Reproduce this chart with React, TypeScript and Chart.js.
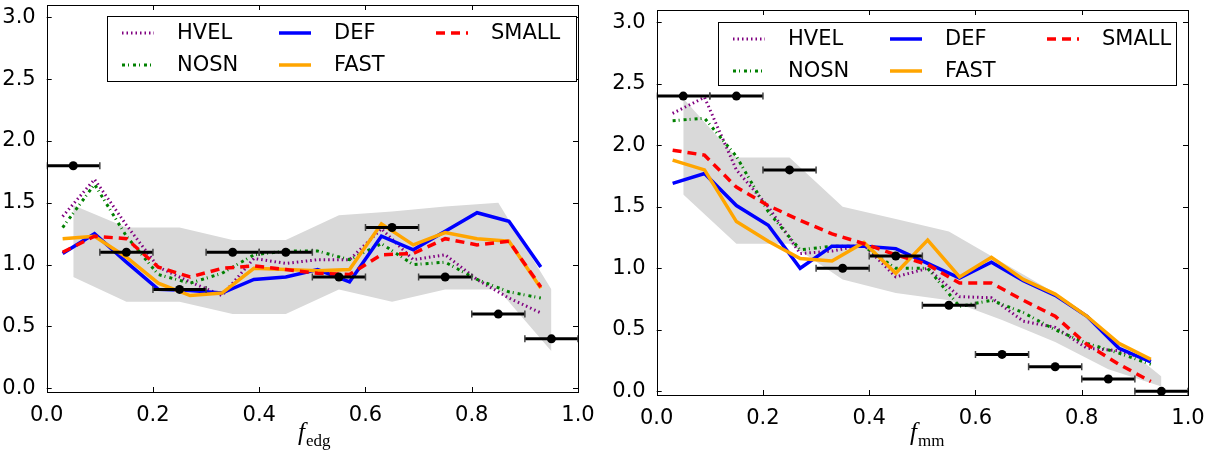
import { useEffect, useRef } from "react";
import { Chart, registerables } from "chart.js";

Chart.register(...registerables);

// model curves are sampled on this grid
const modelX = [0.03, 0.09, 0.15, 0.21, 0.27, 0.33, 0.39, 0.45, 0.51, 0.57, 0.63, 0.69, 0.75, 0.81, 0.87, 0.93];

// left panel: f_edg
const edgHVEL = [1.39, 1.69, 1.32, 0.98, 0.86, 0.75, 1.05, 1.01, 1.04, 1.04, 1.29, 1.04, 1.08, 0.88, 0.73, 0.61];
const edgNOSN = [1.30, 1.65, 1.23, 0.92, 0.85, 0.93, 1.08, 1.11, 1.11, 1.04, 1.17, 1.00, 1.02, 0.88, 0.78, 0.73];
const edgDEF = [1.09, 1.25, 1.02, 0.80, 0.79, 0.77, 0.88, 0.90, 0.96, 0.86, 1.23, 1.12, 1.27, 1.42, 1.35, 0.98];
const edgFAST = [1.21, 1.23, 1.06, 0.85, 0.75, 0.77, 0.97, 0.96, 0.95, 0.96, 1.33, 1.16, 1.26, 1.21, 1.19, 0.81];
const edgSMALL = [1.10, 1.23, 1.21, 0.98, 0.90, 0.97, 0.99, 0.96, 0.93, 0.92, 1.08, 1.09, 1.21, 1.16, 1.19, 0.82];

// right panel: f_mm
const mmHVEL = [2.26, 2.39, 1.80, 1.50, 1.12, 1.14, 1.19, 0.93, 1.00, 0.77, 0.76, 0.57, 0.52, 0.35, 0.33, 0.25];
const mmNOSN = [2.20, 2.22, 1.91, 1.46, 1.15, 1.18, 1.18, 1.00, 1.00, 0.69, 0.74, 0.64, 0.50, 0.39, 0.31, 0.22];
const mmDEF = [1.69, 1.77, 1.51, 1.35, 1.00, 1.18, 1.18, 1.16, 1.04, 0.92, 1.05, 0.90, 0.78, 0.61, 0.35, 0.24];
const mmFAST = [1.88, 1.80, 1.38, 1.22, 1.08, 1.06, 1.21, 0.96, 1.23, 0.93, 1.09, 0.91, 0.79, 0.61, 0.39, 0.26];
const mmSMALL = [1.96, 1.92, 1.66, 1.51, 1.39, 1.28, 1.20, 1.11, 1.03, 0.88, 0.88, 0.74, 0.61, 0.38, 0.22, 0.08];

// observed bins (x centre, half width) and the grey spread
const binX = [0.05, 0.15, 0.25, 0.35, 0.45, 0.55, 0.65, 0.75, 0.85, 0.95];
const binHalfWidth = 0.05;
const edgObs = [1.8, 1.1, 0.8, 1.1, 1.1, 0.9, 1.3, 0.9, 0.6, 0.4];
const mmObs = [2.4, 2.4, 1.8, 1.0, 1.1, 0.7, 0.3, 0.2, 0.1, 0.0];
const edgBandHigh = [1.48, 1.30, 1.30, 1.20, 1.20, 1.40, 1.43, 1.47, 1.50, 0.80];
const edgBandLow = [0.90, 0.70, 0.70, 0.60, 0.60, 0.80, 0.70, 0.80, 0.80, 0.30];
const mmBandHigh = [2.38, 1.90, 1.90, 1.50, 1.40, 1.30, 1.05, 0.80, 0.47, 0.12];
const mmBandLow = [1.60, 1.20, 1.20, 0.91, 0.80, 0.74, 0.58, 0.40, 0.18, 0.04];

const xTicks = [0, 0.2, 0.4, 0.6, 0.8, 1.0];
const yTicks = [0, 0.5, 1.0, 1.5, 2.0, 2.5, 3.0];

const seriesNames = ["HVEL", "NOSN", "DEF", "FAST", "SMALL"];
const seriesStyle: Record<string, { color: string; dash: number[]; width: number }> = {
  HVEL: { color: "#800080", dash: [1.5, 3], width: 3 },
  NOSN: { color: "#008000", dash: [3, 3, 1, 4], width: 3 },
  DEF: { color: "#0000ff", dash: [], width: 3.5 },
  FAST: { color: "#ffa500", dash: [], width: 3.5 },
  SMALL: { color: "#ff0000", dash: [9, 6], width: 3.5 },
};

const tickFont = { family: "'DejaVu Sans', sans-serif", size: 21 };

interface PanelProps {
  lines: number[][];
  obs: number[];
  bandHigh: number[];
  bandLow: number[];
  left: number;
  width: number;
  padTop: number;
  padRight: number;
  yAxisWidth: number;
  xAxisHeight: number;
  legendBox: [number, number, number, number];
  sub: string;
  labelLeft: number;
}

function Panel(p: PanelProps) {
  const canvasRef = useRef<HTMLCanvasElement>(null);

  useEffect(() => {
    if (!canvasRef.current) return;

    const datasets: any[] = [];
    // first dataset is drawn on top in Chart.js
    datasets.push({
      label: "obs",
      data: binX.map((x, i) => ({ x, y: p.obs[i] })),
      showLine: false,
      pointRadius: 4.5,
      pointBorderWidth: 0,
      pointBackgroundColor: "#000",
      borderColor: "#000",
      backgroundColor: "#000",
    });
    for (let s = seriesNames.length - 1; s >= 0; s--) {
      const st = seriesStyle[seriesNames[s]];
      datasets.push({
        label: seriesNames[s],
        data: modelX.map((x, i) => ({ x, y: p.lines[s][i] })),
        borderColor: st.color,
        borderWidth: st.width,
        borderDash: st.dash,
        pointRadius: 0,
        fill: false,
      });
    }
    datasets.push({
      label: "spread",
      data: binX.map((x, i) => ({ x, y: p.bandHigh[i] })),
      borderColor: "rgba(0,0,0,0)",
      borderWidth: 0,
      pointRadius: 0,
      backgroundColor: "#d9d9d9",
      fill: "+1",
    });
    datasets.push({
      label: "spread low",
      data: binX.map((x, i) => ({ x, y: p.bandLow[i] })),
      borderColor: "rgba(0,0,0,0)",
      borderWidth: 0,
      pointRadius: 0,
      fill: false,
    });

    const paperPlugin = {
      id: "paper",
      afterDatasetsDraw(chart: Chart) {
        const { ctx, chartArea: ca } = chart;
        const xs = chart.scales.x;
        const ys = chart.scales.y;
        ctx.save();
        ctx.beginPath();
        ctx.rect(ca.left, ca.top, ca.right - ca.left, ca.bottom - ca.top);
        ctx.clip();
        binX.forEach((x, i) => {
          const y = ys.getPixelForValue(p.obs[i]);
          const x0 = xs.getPixelForValue(x - binHalfWidth);
          const x1 = xs.getPixelForValue(x + binHalfWidth);
          ctx.strokeStyle = "#000";
          ctx.lineWidth = 3;
          ctx.beginPath();
          ctx.moveTo(x0, y);
          ctx.lineTo(x1, y);
          ctx.stroke();
          ctx.strokeStyle = "#444";
          ctx.lineWidth = 1.5;
          ctx.beginPath();
          ctx.moveTo(x0, y - 3.5);
          ctx.lineTo(x0, y + 3.5);
          ctx.moveTo(x1, y - 3.5);
          ctx.lineTo(x1, y + 3.5);
          ctx.stroke();
        });
        ctx.restore();
      },
      afterDraw(chart: Chart) {
        const { ctx, chartArea: ca } = chart;
        const xs = chart.scales.x;
        const ys = chart.scales.y;
        ctx.save();
        // frame
        ctx.strokeStyle = "#000";
        ctx.lineWidth = 1;
        ctx.strokeRect(Math.round(ca.left) + 0.5, Math.round(ca.top) + 0.5, Math.round(ca.right - ca.left), Math.round(ca.bottom - ca.top));
        // inward ticks on all four sides
        ctx.beginPath();
        xTicks.forEach((v) => {
          const x = Math.round(xs.getPixelForValue(v)) + 0.5;
          ctx.moveTo(x, ca.bottom);
          ctx.lineTo(x, ca.bottom - 5);
          ctx.moveTo(x, ca.top);
          ctx.lineTo(x, ca.top + 5);
        });
        yTicks.forEach((v) => {
          const y = Math.round(ys.getPixelForValue(v)) + 0.5;
          ctx.moveTo(ca.left, y);
          ctx.lineTo(ca.left + 5, y);
          ctx.moveTo(ca.right, y);
          ctx.lineTo(ca.right - 5, y);
        });
        ctx.stroke();

        // legend, filled column by column like matplotlib
        const [bx, by, bw, bh] = p.legendBox;
        ctx.fillStyle = "#fff";
        ctx.fillRect(bx, by, bw, bh);
        ctx.strokeStyle = "#000";
        ctx.lineWidth = 1;
        ctx.strokeRect(bx + 0.5, by + 0.5, bw, bh);
        seriesNames.forEach((name, i) => {
          const st = seriesStyle[name];
          const col = Math.floor(i / 2);
          const row = i % 2;
          const cy = by + 17 + row * 32;
          const sx = bx + 15 + col * 157;
          ctx.strokeStyle = st.color;
          ctx.lineWidth = st.width;
          ctx.setLineDash(st.dash);
          ctx.beginPath();
          ctx.moveTo(sx, cy);
          ctx.lineTo(sx + 32, cy);
          ctx.stroke();
          ctx.setLineDash([]);
          ctx.fillStyle = "#000";
          ctx.font = "21px 'DejaVu Sans', sans-serif";
          ctx.textBaseline = "middle";
          ctx.textAlign = "left";
          ctx.fillText(name, bx + 70 + col * 157, cy + 1);
        });
        ctx.restore();
      },
    };

    const chart = new Chart(canvasRef.current, {
      type: "line",
      data: { datasets },
      plugins: [paperPlugin],
      options: {
        animation: false,
        responsive: true,
        maintainAspectRatio: false,
        events: [],
        layout: { padding: { top: p.padTop, right: p.padRight, left: 0, bottom: 0 } },
        plugins: { legend: { display: false }, tooltip: { enabled: false } },
        scales: {
          x: {
            type: "linear",
            min: 0,
            max: 1,
            grid: { display: false },
            border: { display: false },
            afterBuildTicks: (s: any) => {
              s.ticks = xTicks.map((v) => ({ value: v }));
            },
            afterFit: (s: any) => {
              s.height = p.xAxisHeight;
              s.paddingLeft = 0;
              s.paddingRight = 0;
            },
            ticks: {
              color: "#000",
              font: tickFont,
              padding: 3,
              maxRotation: 0,
              minRotation: 0,
              autoSkip: false,
              callback: (v: any) => Number(v).toFixed(1),
            },
          },
          y: {
            type: "linear",
            min: -0.03,
            max: 3.1,
            grid: { display: false },
            border: { display: false },
            afterBuildTicks: (s: any) => {
              s.ticks = yTicks.map((v) => ({ value: v }));
            },
            afterFit: (s: any) => {
              s.width = p.yAxisWidth;
              s.paddingTop = 0;
              s.paddingBottom = 0;
            },
            ticks: {
              color: "#000",
              font: tickFont,
              padding: 3,
              autoSkip: false,
              callback: (v: any) => Number(v).toFixed(1),
            },
          },
        },
      } as any,
    });

    return () => {
      chart.destroy();
    };
  }, []);

  return (
    <>
      <div style={{ position: "absolute", left: p.left, top: 0, width: p.width, height: 452 }}>
        <canvas ref={canvasRef} />
      </div>
      <div
        style={{
          position: "absolute",
          left: p.labelLeft,
          top: 419,
          fontFamily: "'Liberation Serif', serif",
          fontSize: 25,
          lineHeight: 1,
          whiteSpace: "nowrap",
        }}
      >
        <i>f</i>
        <span style={{ fontSize: 17, position: "relative", top: 6, marginLeft: 1 }}>{p.sub}</span>
      </div>
    </>
  );
}

export default function App() {
  return (
    <div style={{ position: "absolute", left: 0, top: 0, width: 1215, height: 452, background: "#fff", overflow: "hidden" }}>
      <Panel
        lines={[edgHVEL, edgNOSN, edgDEF, edgFAST, edgSMALL]}
        obs={edgObs}
        bandHigh={edgBandHigh}
        bandLow={edgBandLow}
        left={0}
        width={600}
        padTop={5}
        padRight={22}
        yAxisWidth={46.7}
        xAxisHeight={60}
        legendBox={[107, 16, 469, 65]}
        sub="edg"
        labelLeft={298}
      />
      <Panel
        lines={[mmHVEL, mmNOSN, mmDEF, mmFAST, mmSMALL]}
        obs={mmObs}
        bandHigh={mmBandHigh}
        bandLow={mmBandLow}
        left={605}
        width={610}
        padTop={10}
        padRight={27}
        yAxisWidth={51.7}
        xAxisHeight={57}
        legendBox={[113, 22, 458, 63]}
        sub="mm"
        labelLeft={910}
      />
    </div>
  );
}
